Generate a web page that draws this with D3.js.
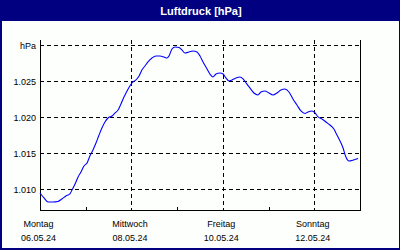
<!DOCTYPE html>
<html>
<head>
<meta charset="utf-8">
<script src="https://cdn.jsdelivr.net/npm/d3@7"></script>
<style>
  html, body { margin: 0; padding: 0; background: #000080; }
  svg { display: block; }
  text { font-family: "Liberation Sans", Arial, sans-serif; }
</style>
</head>
<body>
<svg id="chart" width="400" height="250"></svg>
<script>
// ---- data (hours since Montag 06.05.24 00:00, pressure in hPa) ----
const hours = [0, 2.1, 4.2, 6.8, 9.4, 11.5, 13.6, 15.7, 16.8, 18.4, 20, 21.5, 23.1, 24.7, 26.2, 27.8, 29.4, 31, 32.5, 34.1, 35.7, 37.8, 39.4, 41, 42.5, 44.1, 45.7, 47.2, 48.8, 50.4, 52, 53.5, 55.1, 56.7, 58.8, 60.9, 63, 65.1, 66.7, 67.7, 69.3, 70.9, 73, 74.5, 76.1, 78.2, 80.3, 82.4, 84, 85.6, 87.7, 89.2, 90.8, 92.4, 94.5, 96.1, 97.6, 99.2, 100.8, 102.9, 105, 106.6, 108.2, 110.2, 112.3, 114.4, 116, 118.1, 120.2, 122.3, 124.4, 126.5, 128.6, 130.7, 132.8, 134.9, 137, 139.1, 140.7, 142.8, 144.4, 146, 148, 150.1, 152.2, 154.3, 155.9, 157.5, 159.1, 160.6, 162.2, 163.8, 165.4, 167];
const pressure = [1009.44, 1008.75, 1008.19, 1008.19, 1008.26, 1008.61, 1009.03, 1009.31, 1009.86, 1010.69, 1011.67, 1012.36, 1013.19, 1013.61, 1014.58, 1015.42, 1016.39, 1017.5, 1018.47, 1019.31, 1019.86, 1020.14, 1020.56, 1020.97, 1021.81, 1022.78, 1023.61, 1024.31, 1024.86, 1025.14, 1025.69, 1026.53, 1027.08, 1027.64, 1028.19, 1028.47, 1028.47, 1028.33, 1028.19, 1028.47, 1029.44, 1029.72, 1029.65, 1029.31, 1028.89, 1029.03, 1029.17, 1029.03, 1028.47, 1027.64, 1026.67, 1025.97, 1025.56, 1025.97, 1026.11, 1025.97, 1025.42, 1025.0, 1025.14, 1025.42, 1025.56, 1025.28, 1024.72, 1024.03, 1023.33, 1023.06, 1023.47, 1023.61, 1023.33, 1023.06, 1023.33, 1023.75, 1023.89, 1023.47, 1022.5, 1021.67, 1020.83, 1020.49, 1020.69, 1020.83, 1020.56, 1020.0, 1019.72, 1019.31, 1018.89, 1018.33, 1017.5, 1016.67, 1015.69, 1014.44, 1013.89, 1013.96, 1014.1, 1014.24];

const dayTicks = [0, 48, 96, 144];
const dayNames = ["Montag", "Mittwoch", "Freitag", "Sonntag"];
const dayDates = ["06.05.24", "08.05.24", "10.05.24", "12.05.24"];
const minorTicks = [24, 72, 120, 168];

const yTicks = [1010, 1015, 1020, 1025, 1030];
const yLabels = ["1.010", "1.015", "1.020", "1.025", "hPa"];

const title = "Luftdruck [hPa]";

// ---- drawing ----
(function () {
const svg = d3.select("#chart");
const W = 400, H = 250;
const pL = 40, pR = 360, pT = 40, pB = 210;

svg.append("rect").attr("x", 0).attr("y", 0).attr("width", W).attr("height", H).attr("fill", "#000080");
svg.append("rect").attr("x", 2).attr("y", 21).attr("width", 397).attr("height", 227).attr("fill", "#fdfffd");

svg.append("text")
  .attr("x", 201).attr("y", 14.5)
  .attr("text-anchor", "middle")
  .attr("fill", "#ffffff")
  .style("font-size", "11px").style("font-weight", "bold")
  .text(title);

const x = d3.scaleLinear().domain([0, 168]).range([pL, pR]);
const y = d3.scaleLinear().domain([1007.08, 1030.69]).range([pB, pT]);

// horizontal grid
svg.append("g").selectAll("line").data(yTicks).join("line")
  .attr("x1", pL).attr("x2", pR)
  .attr("y1", d => Math.round(y(d)) + 0.5).attr("y2", d => Math.round(y(d)) + 0.5)
  .attr("stroke", "#000").attr("stroke-width", 1).attr("stroke-dasharray", "4,3")
  .attr("shape-rendering", "crispEdges");

// vertical grid
svg.append("g").selectAll("line").data(dayTicks.slice(1)).join("line")
  .attr("x1", d => Math.round(x(d)) + 0.5).attr("x2", d => Math.round(x(d)) + 0.5)
  .attr("y1", pT).attr("y2", pB)
  .attr("stroke", "#000").attr("stroke-width", 1).attr("stroke-dasharray", "4,3")
  .attr("shape-rendering", "crispEdges");

// minor ticks (inside)
svg.append("g").selectAll("line").data(minorTicks).join("line")
  .attr("x1", d => Math.round(x(d)) + 0.5).attr("x2", d => Math.round(x(d)) + 0.5)
  .attr("y1", pB - 3).attr("y2", pB)
  .attr("stroke", "#000").attr("shape-rendering", "crispEdges");

// frame: left, bottom, right
svg.append("path")
  .attr("d", `M${pL + 0.5},${pT}V${pB + 0.5}H${pR + 0.5}V${pT}`)
  .attr("fill", "none").attr("stroke", "#000").attr("stroke-width", 1)
  .attr("shape-rendering", "crispEdges");

// y labels via axis
const yAxis = d3.axisLeft(y).tickValues(yTicks).tickSize(0).tickPadding(4)
  .tickFormat((d, i) => yLabels[i]);
const gy = svg.append("g").attr("transform", `translate(${pL},0)`).call(yAxis);
gy.select(".domain").remove();
gy.selectAll("text").attr("fill", "#000").style("font-size", "9px").style("font-family", "'Liberation Sans', Arial, sans-serif")
  .attr("dy", "0.4em");

// x labels via axis (two rows)
const xAxis1 = d3.axisBottom(x).tickValues(dayTicks).tickSize(0).tickPadding(11)
  .tickFormat((d, i) => dayNames[i]);
const gx1 = svg.append("g").attr("transform", `translate(-2,${pB})`).call(xAxis1);
gx1.select(".domain").remove();
gx1.selectAll("text").attr("fill", "#000").style("font-size", "9px").style("font-family", "'Liberation Sans', Arial, sans-serif");

const xAxis2 = d3.axisBottom(x).tickValues(dayTicks).tickSize(0).tickPadding(25)
  .tickFormat((d, i) => dayDates[i]);
const gx2 = svg.append("g").attr("transform", `translate(-2,${pB})`).call(xAxis2);
gx2.select(".domain").remove();
gx2.selectAll("text").attr("fill", "#000").style("font-size", "9px").style("font-family", "'Liberation Sans', Arial, sans-serif");

// line
const data = hours.map((h, i) => ({ h, v: pressure[i] }));
svg.append("path")
  .datum(data)
  .attr("fill", "none")
  .attr("stroke", "#0000ff")
  .attr("stroke-width", 1.1)
  .attr("d", d3.line().x(d => x(d.h)).y(d => y(d.v)).curve(d3.curveMonotoneX));
})();
</script>
</body>
</html>
